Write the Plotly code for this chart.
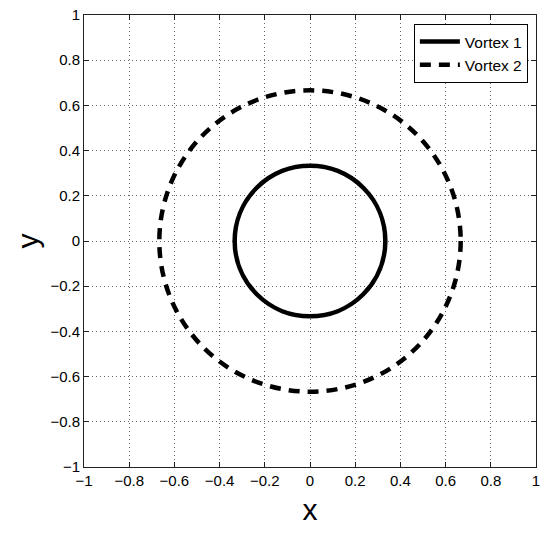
import plotly.graph_objects as go

# Data
series_names = ["Vortex 1", "Vortex 2"]
center_x = [0.0, 0.0]
center_y = [0.0, 0.0]
radii = [1/3, 2/3]
dash_styles = ["solid", "11px,8px"]
tick_vals = [-1, -0.8, -0.6, -0.4, -0.2, 0, 0.2, 0.4, 0.6, 0.8, 1]
tick_text = ["\u22121", "\u22120.8", "\u22120.6", "\u22120.4", "\u22120.2", "0",
             "0.2", "0.4", "0.6", "0.8", "1"]

LW = 4.5
fig = go.Figure()

for name, cx, cy, r, d in zip(series_names, center_x, center_y, radii, dash_styles):
    fig.add_shape(type="circle", xref="x", yref="y",
                  x0=cx - r, x1=cx + r, y0=cy - r, y1=cy + r,
                  line=dict(color="black", width=LW, dash=d), layer="above")
    fig.add_trace(go.Scatter(x=[None], y=[None], mode="lines", name=name,
                             line=dict(color="black", width=LW, dash=d)))

axis_common = dict(
    range=[-1, 1], tickvals=tick_vals, ticktext=tick_text, automargin=False,
    ticklabeloverflow="allow",
    showgrid=True, gridcolor="#666", griddash="1px,3px", gridwidth=1,
    zeroline=False, showline=True, linecolor="#222", linewidth=1, mirror="ticks",
    ticks="inside", ticklen=5, tickcolor="#222", tickwidth=1,
    tickfont=dict(family="Liberation Sans, Arial, sans-serif", size=15, color="black"),
)

fig.update_layout(
    width=550, height=533,
    margin=dict(l=84, r=14, t=15, b=66),
    paper_bgcolor="white", plot_bgcolor="white",
    font=dict(family="Liberation Sans, Arial, sans-serif", color="black"),
    xaxis=dict(**axis_common, title=dict(text="x", font=dict(size=30), standoff=10)),
    yaxis=dict(**axis_common, title=dict(text="y", font=dict(size=30), standoff=2)),
    legend=dict(x=0.982, y=0.98, xanchor="right", yanchor="top",
                bgcolor="white", bordercolor="black", borderwidth=1,
                font=dict(size=15.5), tracegroupgap=0, itemwidth=40),
    showlegend=True,
)

fig.write_html("out.html", config={"displayModeBar": False},
               post_script="document.body.style.margin='0';document.body.style.overflow='hidden';")
